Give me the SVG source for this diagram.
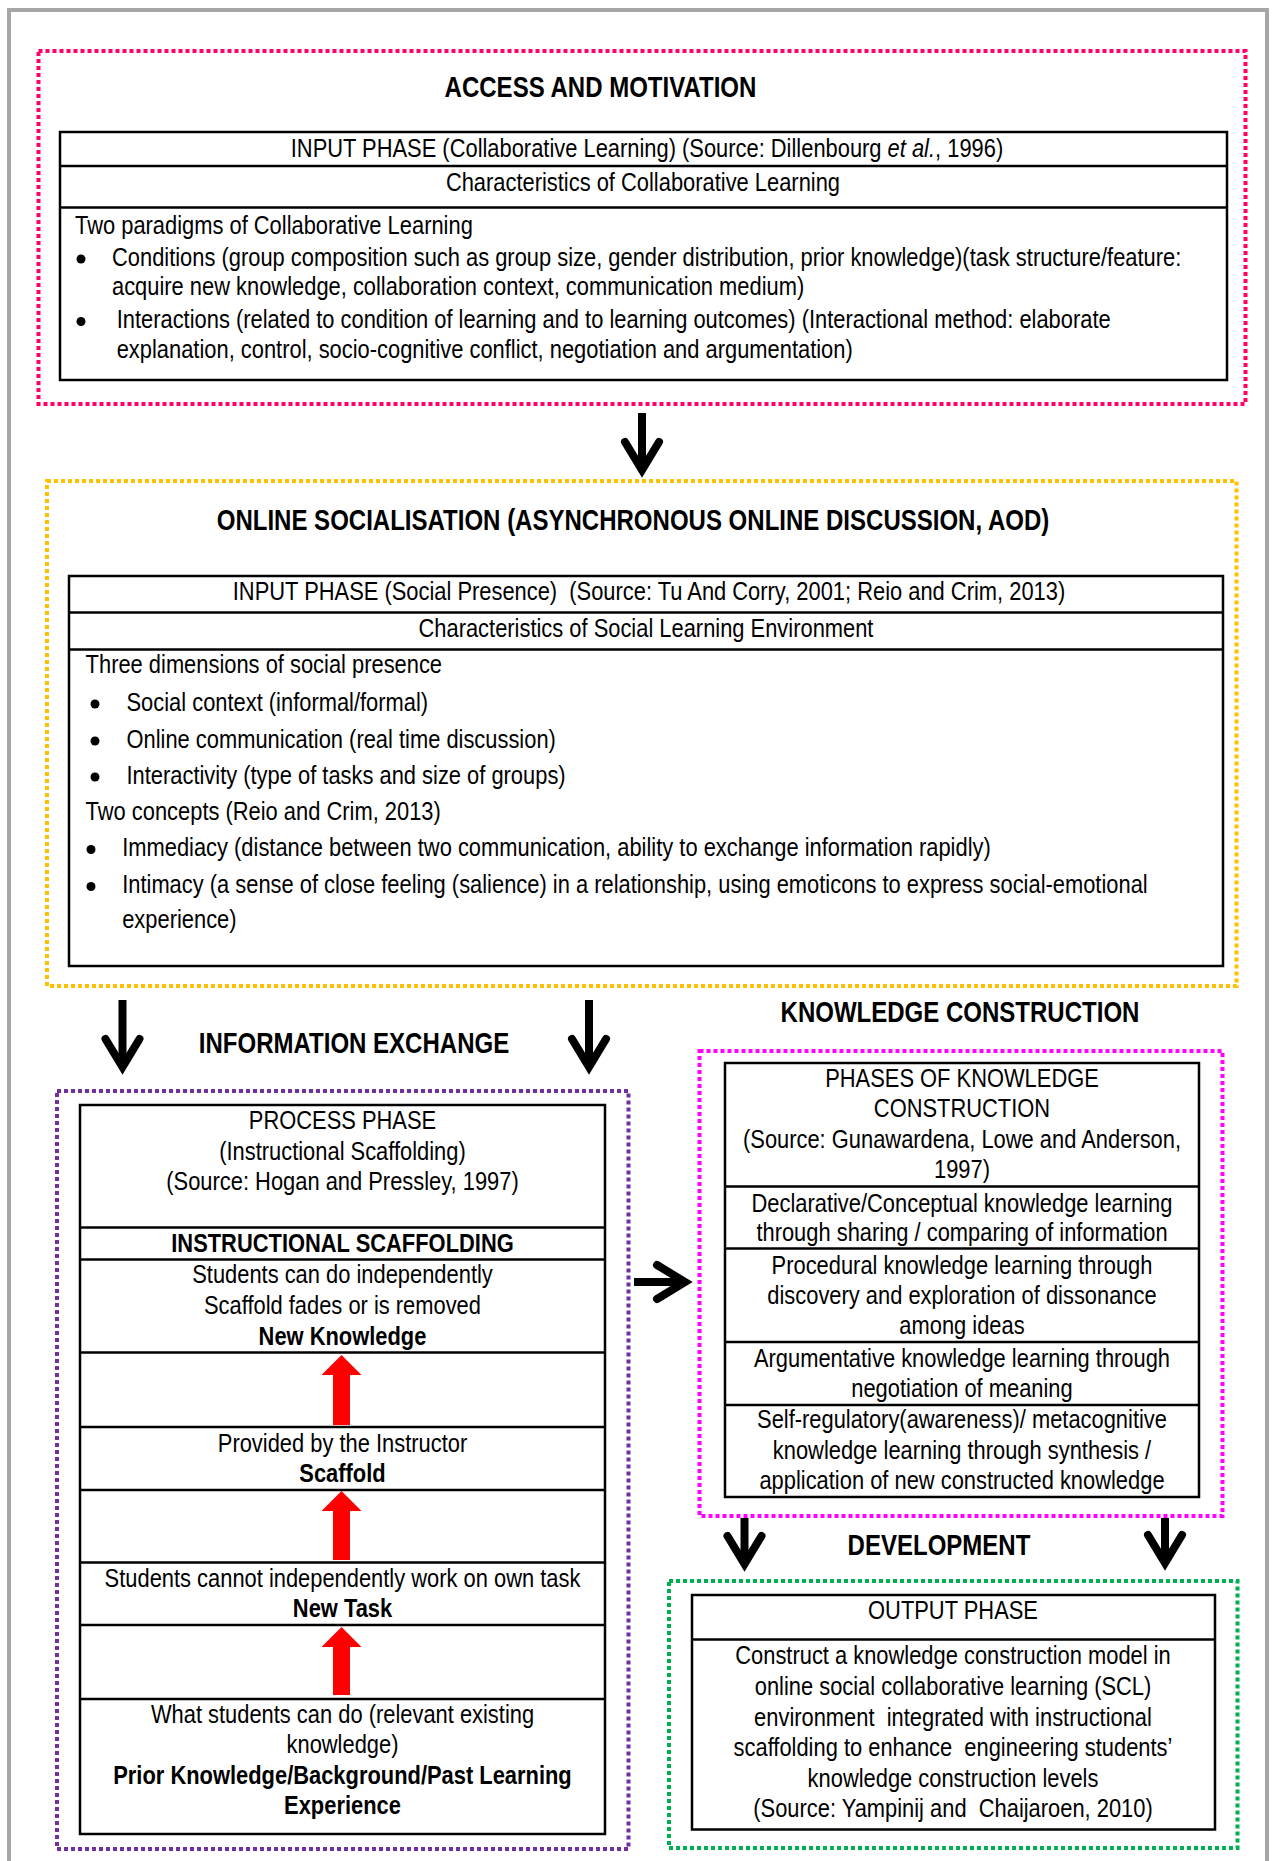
<svg xmlns="http://www.w3.org/2000/svg" width="1274" height="1861" viewBox="0 0 1274 1861">
<style>
.t{font-family:"Liberation Sans",Arial,sans-serif;font-size:26.7px;fill:#000}
.c{text-anchor:middle}
.b{font-weight:bold}
.h{font-family:"Liberation Sans",Arial,sans-serif;font-size:29.3px;font-weight:bold;text-anchor:middle;fill:#000}
.box{fill:none;stroke:#000;stroke-width:2.5}
.ln{stroke:#000;stroke-width:2.5}
.dot{fill:none;stroke-width:4;stroke-dasharray:4 3}
.arr{fill:none;stroke:#000;stroke-width:8}
.red{fill:#ff0000}
</style>
<defs>
<marker id="ah" markerUnits="userSpaceOnUse" markerWidth="80" markerHeight="80" viewBox="-40 -40 80 80" refX="0" refY="0" orient="auto" overflow="visible">
<path d="M-28,-17 L0,0 L-28,17" fill="none" stroke="#000" stroke-width="8" stroke-linecap="round" stroke-linejoin="miter"/>
</marker>
</defs>
<rect width="1274" height="1861" fill="#fff"/>
<path d="M9,1861 V10 H1267 V1861" fill="none" stroke="#a6a6a6" stroke-width="4"/>

<g id="access-motivation">
<rect class="dot" x="38.5" y="51" width="1207" height="353" stroke="#ff0066"/>
<rect class="box" x="60" y="132" width="1167" height="248"/>
<line class="ln" x1="60" y1="166" x2="1227" y2="166"/>
<line class="ln" x1="60" y1="207.5" x2="1227" y2="207.5"/>
<circle cx="81" cy="259" r="4.5"/>
<circle cx="81" cy="321.5" r="4.5"/>
<g transform="scale(0.82 1)">
<text class="h" x="732.3" y="97">ACCESS AND MOTIVATION</text>
<text class="t c" x="789" y="157">INPUT PHASE (Collaborative Learning) (Source: Dillenbourg <tspan font-style="italic">et al.</tspan>, 1996)</text>
<text class="t c" x="784.1" y="191">Characteristics of Collaborative Learning</text>
<text class="t" x="91.46" y="234">Two paradigms of Collaborative Learning</text>
<text class="t" x="136.59" y="266.5">Conditions (group composition such as group size, gender distribution, prior knowledge)(task structure/feature:</text>
<text class="t" x="136.59" y="295.5">acquire new knowledge, collaboration context, communication medium)</text>
<text class="t" x="142.32" y="328.5">Interactions (related to condition of learning and to learning outcomes) (Interactional method: elaborate</text>
<text class="t" x="142.32" y="358">explanation, control, socio-cognitive conflict, negotiation and argumentation)</text>
</g>
</g>

<g id="online-socialisation">
<rect class="dot" x="47" y="481" width="1189.5" height="505" stroke="#ffc000"/>
<rect class="box" x="69" y="576" width="1154" height="390"/>
<line class="ln" x1="69" y1="612.5" x2="1223" y2="612.5"/>
<line class="ln" x1="69" y1="649.5" x2="1223" y2="649.5"/>
<circle cx="95" cy="704" r="4.5"/>
<circle cx="95" cy="741" r="4.5"/>
<circle cx="95" cy="777" r="4.5"/>
<circle cx="91" cy="849.5" r="4.5"/>
<circle cx="91" cy="886.5" r="4.5"/>
<g transform="scale(0.82 1)">
<text class="h" x="771.95" y="530">ONLINE SOCIALISATION (ASYNCHRONOUS ONLINE DISCUSSION, AOD)</text>
<text class="t c" x="791.46" y="600" xml:space="preserve">INPUT PHASE (Social Presence)  (Source: Tu And Corry, 2001; Reio and Crim, 2013)</text>
<text class="t c" x="787.8" y="637">Characteristics of Social Learning Environment</text>
<text class="t" x="104.39" y="673.5">Three dimensions of social presence</text>
<text class="t" x="154.27" y="711">Social context (informal/formal)</text>
<text class="t" x="154.27" y="748">Online communication (real time discussion)</text>
<text class="t" x="154.27" y="784">Interactivity (type of tasks and size of groups)</text>
<text class="t" x="104.39" y="820">Two concepts (Reio and Crim, 2013)</text>
<text class="t" x="149.02" y="856">Immediacy (distance between two communication, ability to exchange information rapidly)</text>
<text class="t" x="149.02" y="893.5">Intimacy (a sense of close feeling (salience) in a relationship, using emoticons to express social-emotional</text>
<text class="t" x="149.02" y="928">experience)</text>
</g>
</g>

<g id="information-exchange">
<rect class="dot" x="57" y="1091" width="571.5" height="758" stroke="#7030a0"/>
<rect class="box" x="80" y="1105" width="525" height="729"/>
<line class="ln" x1="80" y1="1227.5" x2="605" y2="1227.5"/>
<line class="ln" x1="80" y1="1259.5" x2="605" y2="1259.5"/>
<line class="ln" x1="80" y1="1352.5" x2="605" y2="1352.5"/>
<line class="ln" x1="80" y1="1427" x2="605" y2="1427"/>
<line class="ln" x1="80" y1="1490" x2="605" y2="1490"/>
<line class="ln" x1="80" y1="1562.5" x2="605" y2="1562.5"/>
<line class="ln" x1="80" y1="1625" x2="605" y2="1625"/>
<line class="ln" x1="80" y1="1699" x2="605" y2="1699"/>
<polygon class="red" points="341.5,1355 361.5,1375 350,1375 350,1425 333,1425 333,1375 321.5,1375"/>
<polygon class="red" points="341.5,1491 361.5,1511 350,1511 350,1560 333,1560 333,1511 321.5,1511"/>
<polygon class="red" points="341.5,1627 361.5,1647 350,1647 350,1695 333,1695 333,1647 321.5,1647"/>
<g transform="scale(0.82 1)">
<text class="h" x="431.7" y="1053">INFORMATION EXCHANGE</text>
<text class="t c" x="417.68" y="1129.5">PROCESS PHASE</text>
<text class="t c" x="417.68" y="1160">(Instructional Scaffolding)</text>
<text class="t c" x="417.68" y="1190">(Source: Hogan and Pressley, 1997)</text>
<text class="t c b" x="417.68" y="1252">INSTRUCTIONAL SCAFFOLDING</text>
<text class="t c" x="417.68" y="1283">Students can do independently</text>
<text class="t c" x="417.68" y="1314">Scaffold fades or is removed</text>
<text class="t c b" x="417.68" y="1345">New Knowledge</text>
<text class="t c" x="417.68" y="1452">Provided by the Instructor</text>
<text class="t c b" x="417.68" y="1482">Scaffold</text>
<text class="t c" x="417.68" y="1587">Students cannot independently work on own task</text>
<text class="t c b" x="417.68" y="1617">New Task</text>
<text class="t c" x="417.68" y="1723.5">What students can do (relevant existing</text>
<text class="t c" x="417.68" y="1753.5">knowledge)</text>
<text class="t c b" x="417.68" y="1784">Prior Knowledge/Background/Past Learning</text>
<text class="t c b" x="417.68" y="1814.5">Experience</text>
</g>
</g>

<g id="knowledge-construction">
<rect class="dot" x="699.5" y="1051" width="523" height="465" stroke="#ff00ff"/>
<rect class="box" x="725" y="1063" width="474" height="434"/>
<line class="ln" x1="725" y1="1186.5" x2="1199" y2="1186.5"/>
<line class="ln" x1="725" y1="1248.5" x2="1199" y2="1248.5"/>
<line class="ln" x1="725" y1="1342" x2="1199" y2="1342"/>
<line class="ln" x1="725" y1="1405" x2="1199" y2="1405"/>
<g transform="scale(0.82 1)">
<text class="h" x="1170.73" y="1022">KNOWLEDGE CONSTRUCTION</text>
<text class="t c" x="1173.17" y="1087">PHASES OF KNOWLEDGE</text>
<text class="t c" x="1173.17" y="1117.5">CONSTRUCTION</text>
<text class="t c" x="1173.17" y="1148">(Source: Gunawardena, Lowe and Anderson,</text>
<text class="t c" x="1173.17" y="1178.5">1997)</text>
<text class="t c" x="1173.17" y="1211.5">Declarative/Conceptual knowledge learning</text>
<text class="t c" x="1173.17" y="1241">through sharing / comparing of information</text>
<text class="t c" x="1173.17" y="1274">Procedural knowledge learning through</text>
<text class="t c" x="1173.17" y="1304">discovery and exploration of dissonance</text>
<text class="t c" x="1173.17" y="1334.5">among ideas</text>
<text class="t c" x="1173.17" y="1367">Argumentative knowledge learning through</text>
<text class="t c" x="1173.17" y="1397">negotiation of meaning</text>
<text class="t c" x="1173.17" y="1428.5">Self-regulatory(awareness)/ metacognitive</text>
<text class="t c" x="1173.17" y="1459">knowledge learning through synthesis /</text>
<text class="t c" x="1173.17" y="1489">application of new constructed knowledge</text>
</g>
</g>

<g id="development">
<rect class="dot" x="669" y="1581" width="568.5" height="267" stroke="#00b050"/>
<rect class="box" x="692" y="1595" width="523" height="234.5"/>
<line class="ln" x1="692" y1="1639.5" x2="1215" y2="1639.5"/>
<g transform="scale(0.82 1)">
<text class="h" x="1145.12" y="1555">DEVELOPMENT</text>
<text class="t c" x="1162.2" y="1619.5">OUTPUT PHASE</text>
<text class="t c" x="1162.2" y="1664">Construct a knowledge construction model in</text>
<text class="t c" x="1162.2" y="1695">online social collaborative learning (SCL)</text>
<text class="t c" x="1162.2" y="1726" xml:space="preserve">environment  integrated with instructional</text>
<text class="t c" x="1162.2" y="1756.5" xml:space="preserve">scaffolding to enhance  engineering students’</text>
<text class="t c" x="1162.2" y="1787">knowledge construction levels</text>
<text class="t c" x="1162.2" y="1817" xml:space="preserve">(Source: Yampinij and  Chaijaroen, 2010)</text>
</g>
</g>

<g id="connectors">
<line class="arr" x1="642" y1="413" x2="642" y2="470" marker-end="url(#ah)"/>
<line class="arr" x1="122.5" y1="1000" x2="122.5" y2="1067" marker-end="url(#ah)"/>
<line class="arr" x1="589" y1="1000" x2="589" y2="1067" marker-end="url(#ah)"/>
<line class="arr" x1="634" y1="1282" x2="685" y2="1282" marker-end="url(#ah)"/>
<line class="arr" x1="744.5" y1="1518" x2="744.5" y2="1564" marker-end="url(#ah)"/>
<line class="arr" x1="1165" y1="1518" x2="1165" y2="1563" marker-end="url(#ah)"/>
</g>
</svg>
